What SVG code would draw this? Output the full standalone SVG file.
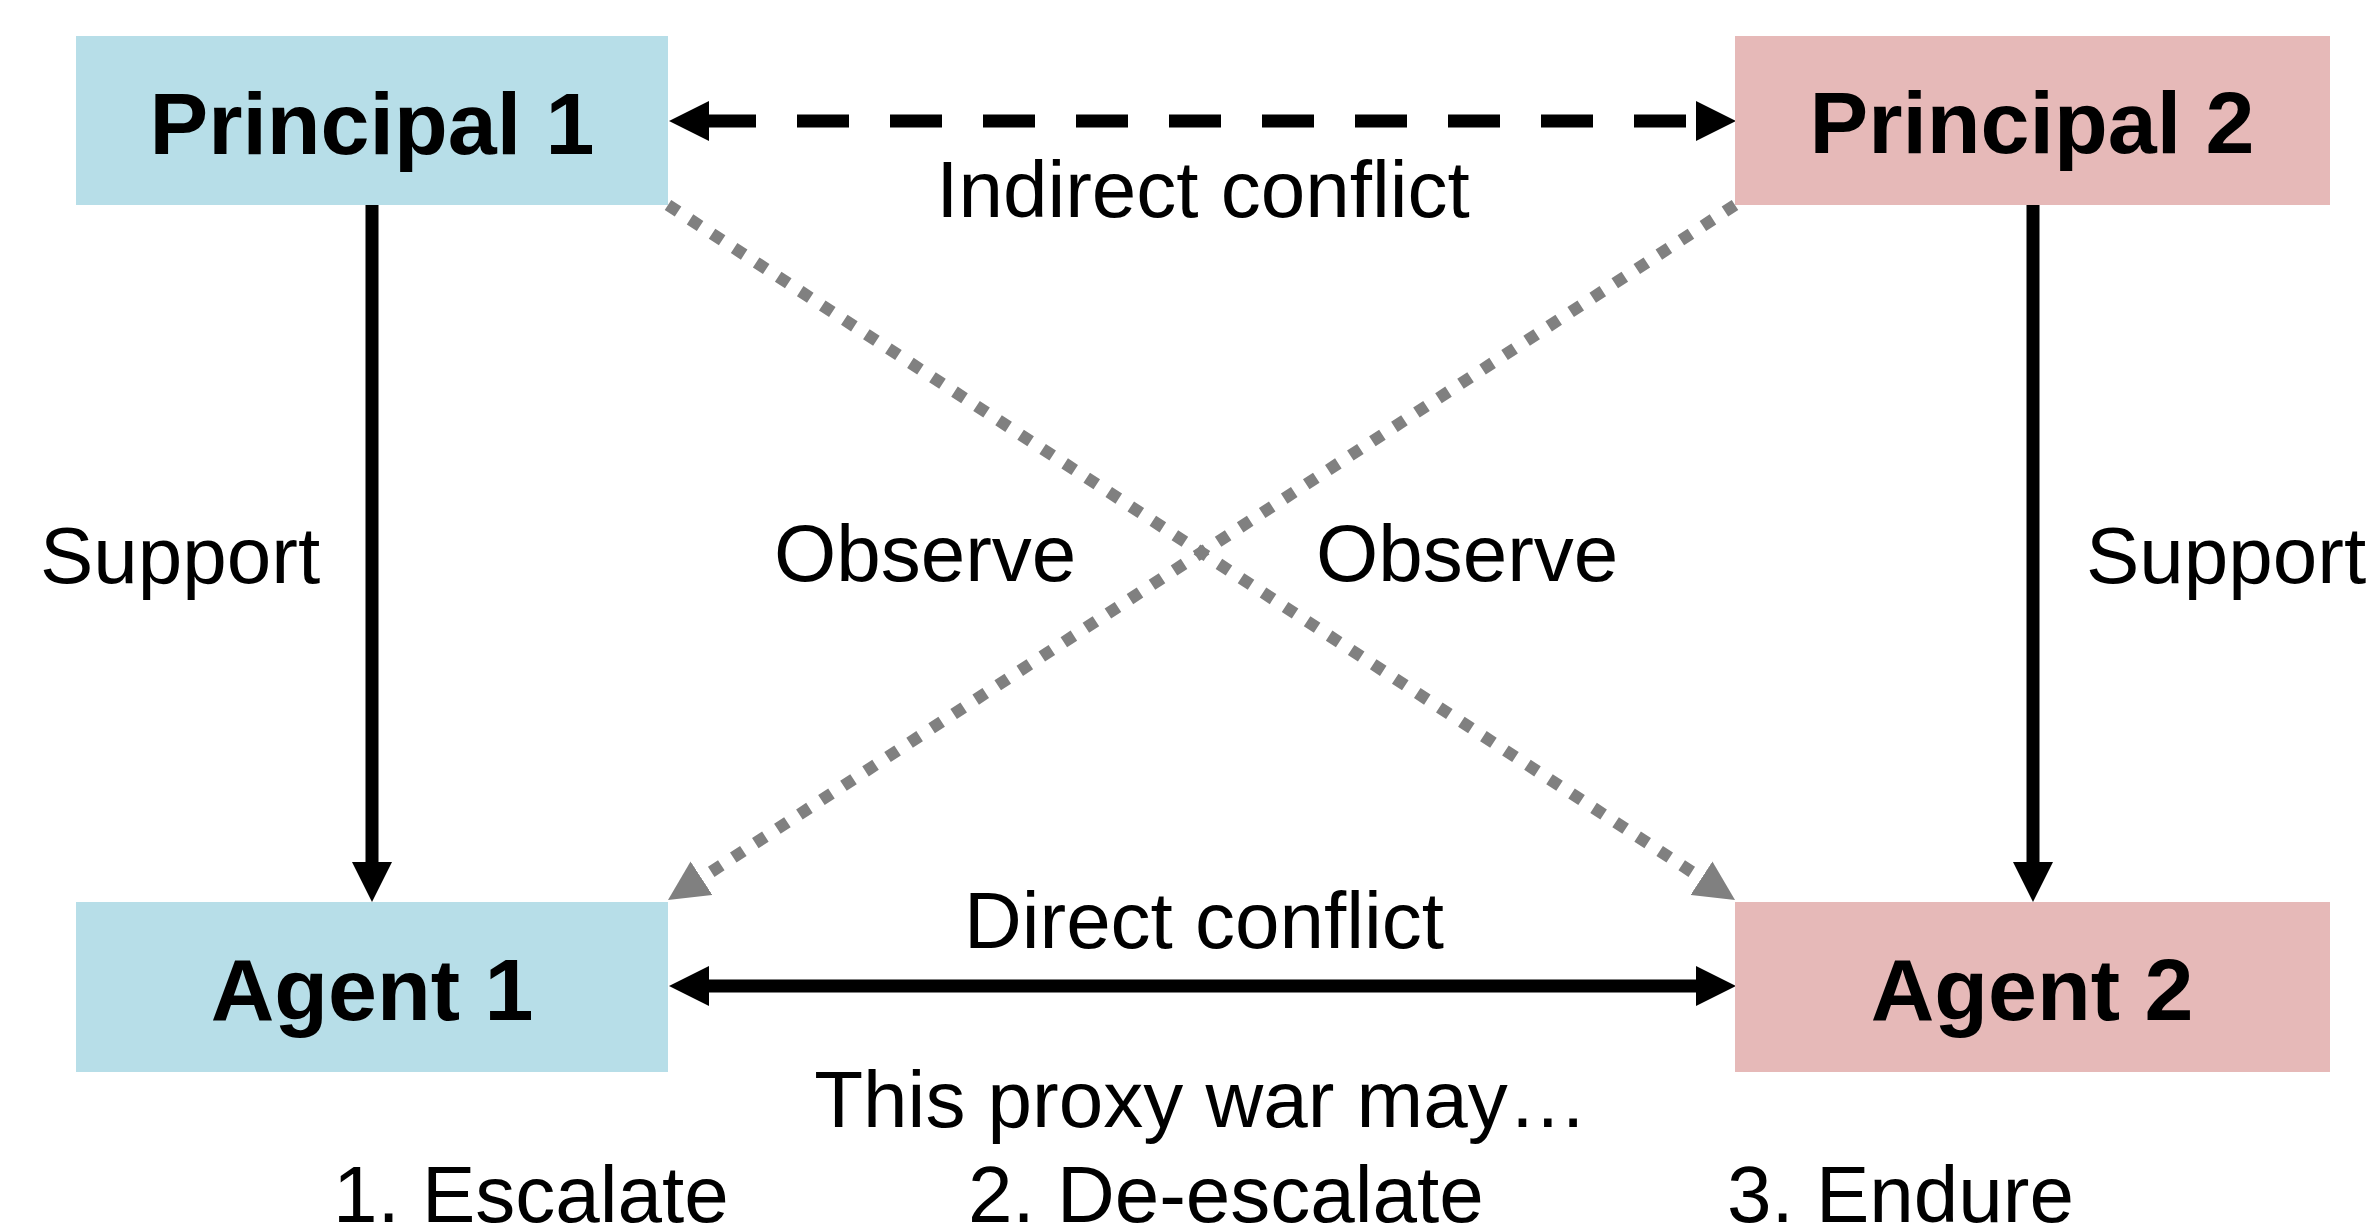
<svg xmlns="http://www.w3.org/2000/svg" width="2376" height="1227" viewBox="0 0 2376 1227">
  <defs>
    <style>
      .box-blue { fill: #B7DEE8; }
      .box-pink { fill: #E6B9B8; }
      .node-label { font-family: "Liberation Sans", Arial, Helvetica, sans-serif; font-weight: bold; font-size: 88px; fill: #000; text-anchor: middle; }
      .label { font-family: "Liberation Sans", Arial, Helvetica, sans-serif; font-size: 80px; fill: #000; }
      .mid { text-anchor: middle; }
      .solid { stroke: #000; stroke-width: 13; fill: none; }
      .dashed { stroke: #000; stroke-width: 13; fill: none; stroke-dasharray: 52 41; stroke-dashoffset: 5; }
      .dotted { stroke: #808080; stroke-width: 12; fill: none; stroke-dasharray: 12 14.3; }
    </style>
    <marker id="head-black" markerUnits="userSpaceOnUse" markerWidth="40" markerHeight="40" refX="0" refY="20" orient="auto-start-reverse" viewBox="0 0 40 40">
      <path d="M0,0 L40,20 L0,40 Z" fill="#000"/>
    </marker>
    <marker id="head-gray" markerUnits="userSpaceOnUse" markerWidth="40" markerHeight="40" refX="0" refY="20" orient="auto" viewBox="0 0 40 40">
      <path d="M0,0 L40,20 L0,40 Z" fill="#808080"/>
    </marker>
  </defs>

  <rect width="2376" height="1227" fill="#fff"/>

  <g id="connectors">
    <!-- Indirect conflict (dashed, bidirectional) -->
    <line class="dashed" x1="709" y1="121" x2="1696" y2="121" marker-start="url(#head-black)" marker-end="url(#head-black)"/>
    <!-- Direct conflict (solid, bidirectional) -->
    <line class="solid" x1="709" y1="986" x2="1696" y2="986" marker-start="url(#head-black)" marker-end="url(#head-black)"/>
    <!-- Support arrows -->
    <line class="solid" x1="372" y1="205" x2="372" y2="862" marker-end="url(#head-black)"/>
    <line class="solid" x1="2033" y1="205" x2="2033" y2="862" marker-end="url(#head-black)"/>
    <!-- Observe arrows (dotted) -->
    <line class="dotted" x1="668" y1="205" x2="1701.5" y2="878.2" marker-end="url(#head-gray)"/>
    <line class="dotted" x1="1735" y1="205" x2="701.5" y2="878.2" marker-end="url(#head-gray)"/>
    <!-- Connector labels -->
    <text class="label mid" x="1203" y="217">Indirect conflict</text>
    <text class="label mid" x="1204" y="948">Direct conflict</text>
    <text class="label" x="40" y="583">Support</text>
    <text class="label" x="2086" y="583">Support</text>
    <text class="label" x="774" y="581">Observe</text>
    <text class="label" x="1316" y="581">Observe</text>
  </g>

  <g id="principal1">
    <rect class="box-blue" x="76" y="36" width="592" height="169"/>
    <text class="node-label" x="372" y="154">Principal 1</text>
  </g>
  <g id="principal2">
    <rect class="box-pink" x="1735" y="36" width="595" height="169"/>
    <text class="node-label" x="2032" y="153">Principal 2</text>
  </g>
  <g id="agent1">
    <rect class="box-blue" x="76" y="902" width="592" height="170"/>
    <text class="node-label" x="372" y="1020">Agent 1</text>
  </g>
  <g id="agent2">
    <rect class="box-pink" x="1735" y="902" width="595" height="170"/>
    <text class="node-label" x="2032" y="1020">Agent 2</text>
  </g>

  <g id="outcomes">
    <text class="label mid" x="1201" y="1127">This proxy war may…</text>
    <text class="label" x="333" y="1222">1. Escalate</text>
    <text class="label" x="968" y="1222">2. De-escalate</text>
    <text class="label" x="1727" y="1222">3. Endure</text>
  </g>
</svg>
